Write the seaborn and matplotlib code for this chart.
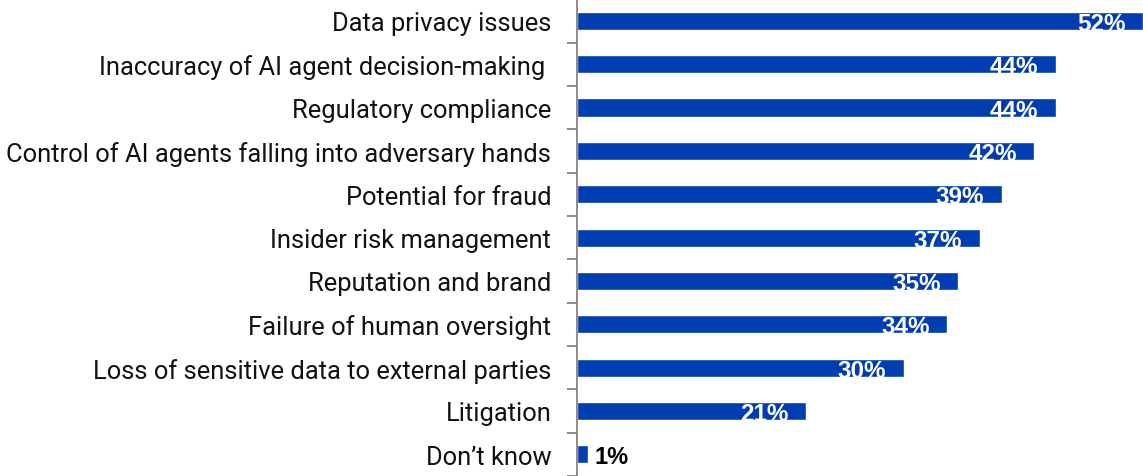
import matplotlib
matplotlib.use("Agg")
import matplotlib.pyplot as plt
import seaborn as sns
import pandas as pd

categories = [
    "Data privacy issues",
    "Inaccuracy of AI agent decision-making ",
    "Regulatory compliance",
    "Control of AI agents falling into adversary hands",
    "Potential for fraud",
    "Insider risk management",
    "Reputation and brand",
    "Failure of human oversight",
    "Loss of sensitive data to external parties",
    "Litigation",
    "Don\u2019t know",
]
values = [52, 44, 44, 42, 39, 37, 35, 34, 30, 21, 1]

bar_color = "#003DB1"
spine_color = "#8C7F76"


def main():
    sns.set_style("white")
    plt.rcParams["font.family"] = ["Roboto", "DejaVu Sans"]

    df = pd.DataFrame({"risk": categories, "pct": values})

    fig = plt.figure(figsize=(11.43, 4.77), dpi=100)
    ax = fig.add_axes([577 / 1143, 0, 1 - 577 / 1143, 1])

    sns.barplot(data=df, y="risk", x="pct", orient="h", color=bar_color,
                width=0.42, saturation=1, ax=ax)

    ax.set_xlim(0, 52)
    ax.set_ylim(10.44, -0.505)
    ax.set_xlabel("")
    ax.set_ylabel("")
    ax.set_xticks([])

    # ticks sit between categories, labels at bar centres
    ax.set_yticks([i - 0.5 for i in range(len(categories))] + [len(categories) - 0.5])
    ax.set_yticklabels([])
    ax.set_yticks(range(len(categories)), minor=True)
    ax.set_yticklabels(categories, minor=True, fontsize=18.4, color="#111111")
    ax.tick_params(axis="y", which="major", length=7, width=1.3, color=spine_color,
                   direction="out", left=True)
    ax.tick_params(axis="y", which="minor", length=0, pad=18.5)

    for s in ["top", "right", "bottom"]:
        ax.spines[s].set_visible(False)
    ax.spines["left"].set_color(spine_color)
    ax.spines["left"].set_linewidth(1.3)

    for i, v in enumerate(values):
        if v >= 5:
            ax.text(v - 1.6, i + 0.06, f"{v}%", ha="right", va="center",
                    color="white", fontsize=17.5, fontweight="bold",
                    family=["Liberation Sans", "DejaVu Sans"], clip_on=True)
        else:
            ax.text(v + 0.6, i + 0.04, f"{v}%", ha="left", va="center",
                    color="black", fontsize=17, fontweight="bold",
                    family=["Liberation Sans", "DejaVu Sans"])

    fig.savefig("out.png", dpi=100)
    plt.close(fig)


if __name__ == "__main__":
    main()
